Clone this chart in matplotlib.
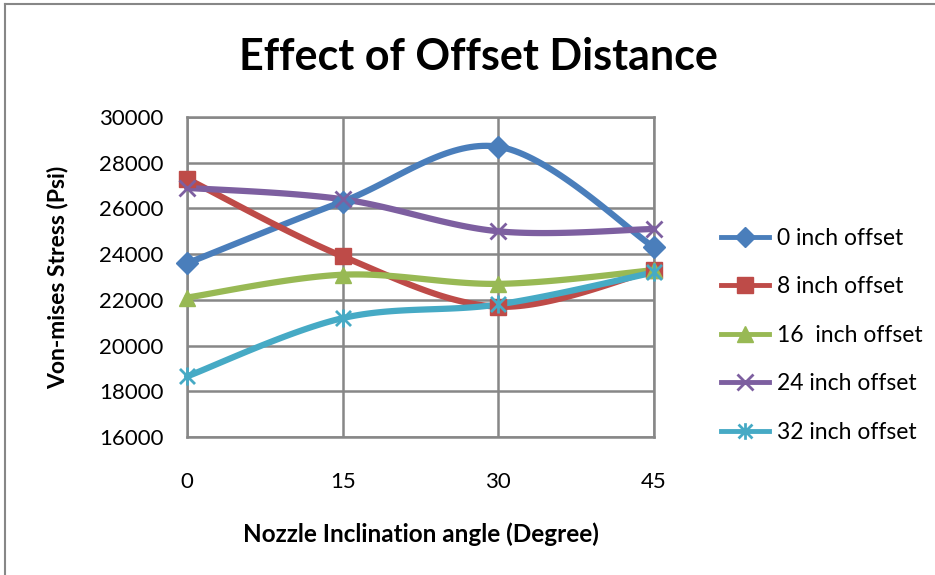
import numpy as np
import matplotlib
matplotlib.use("Agg")
import matplotlib.pyplot as plt
from matplotlib.lines import Line2D
from matplotlib.path import Path

# === Data ===
angles = ["0", "15", "30", "45"]
off_0 = [23600, 26300, 28700, 24300]
off_8 = [27300, 23900, 21700, 23300]
off_16 = [22100, 23100, 22700, 23300]
off_24 = [26900, 26400, 25000, 25100]
off_32 = [18650, 21200, 21800, 23200]

# asterisk like Excel: an x plus a vertical stroke
star = Path([(-1, -1), (1, 1), (-1, 1), (1, -1), (0, -1.2), (0, 1.2)],
            [Path.MOVETO, Path.LINETO, Path.MOVETO, Path.LINETO, Path.MOVETO, Path.LINETO])

series = [
    ("0 inch offset", off_0, "#4A7EBB", "D", 11),
    ("8 inch offset", off_8, "#BE4B48", "s", 12),
    ("16  inch offset", off_16, "#98B954", "^", 12),
    ("24 inch offset", off_24, "#7D5FA0", "x", 12),
    ("32 inch offset", off_32, "#46AAC5", star, 13),
]

YMIN, YMAX = 16000, 30000
FONT = "Lato"
plt.rcParams["font.family"] = [FONT, "DejaVu Sans"]


def smooth(xs, ys, ax, n=40):
    # Excel-like smoothed line: Catmull-Rom in screen-proportional space
    x0, x1 = ax.get_xlim()
    bb = ax.get_position()
    fw, fh = ax.figure.get_size_inches()
    sx = bb.width * fw / (x1 - x0)
    sy = bb.height * fh / (YMAX - YMIN)
    p = np.column_stack([np.asarray(xs, float) * sx, np.asarray(ys, float) * sy])
    p = np.vstack([p[0], p, p[-1]])
    out = []
    t = np.linspace(0, 1, n)[:, None]
    for i in range(1, len(p) - 2):
        p0, p1, p2, p3 = p[i - 1], p[i], p[i + 1], p[i + 2]
        c1 = p1 + (p2 - p0) / 6
        c2 = p2 - (p3 - p1) / 6
        seg = ((1 - t) ** 3) * p1 + 3 * ((1 - t) ** 2) * t * c1 + 3 * (1 - t) * t ** 2 * c2 + t ** 3 * p2
        out.append(seg if i == 1 else seg[1:])
    out = np.vstack(out)
    return out[:, 0] / sx, out[:, 1] / sy


fig = plt.figure(figsize=(9.35, 5.75), dpi=100)
ax = fig.add_axes([187 / 935, 1 - 437 / 575, (654 - 187) / 935, (437 - 117) / 575])

xpos = np.arange(len(angles))
ax.set_xlim(0, len(angles) - 1)
ax.set_ylim(YMIN, YMAX)

handles = []
for label, vals, col, mk, ms in series:
    sxv, syv = smooth(xpos, vals, ax)
    ax.plot(sxv, syv, color=col, lw=4.5, solid_capstyle="round", zorder=3, clip_on=False)
    mew = 2.0 if mk in ("x", star) else 1
    ax.plot(xpos, vals, ls="none", marker=mk, ms=ms, color=col, mec=col, mew=mew, zorder=4, clip_on=False)
    handles.append(Line2D([0], [0], color=col, lw=3.5, marker=mk, ms=ms - 1, mec=col, mew=mew))

ax.set_yticks(np.arange(YMIN, YMAX + 1, 2000))
ax.set_xticks(xpos)
ax.set_xticklabels(angles)
ax.grid(True, color="#878787", lw=1.8)
ax.set_axisbelow(True)
for s in ax.spines.values():
    s.set_color("#878787")
    s.set_linewidth(1.8)
ax.tick_params(length=0, labelsize=16)
ax.tick_params(axis="x", pad=25)
ax.tick_params(axis="y", pad=17)

ax.set_xlabel("Nozzle Inclination angle (Degree)", fontsize=17.5, fontweight="bold", labelpad=22)
ax.set_ylabel("Von-mises Stress (Psi)", fontsize=16.5, fontweight="bold", labelpad=22)

fig.text(478 / 935, 1 - 57 / 575, "Effect of Offset Distance", ha="center", va="center",
         fontsize=31, fontweight="bold")

ax.legend(handles, [s[0] for s in series], loc="upper left", frameon=False,
          bbox_to_anchor=(700 / 935, 1 - 207 / 575), bbox_transform=fig.transFigure,
          fontsize=16.5, handlelength=2.1, labelspacing=1.2, handletextpad=0.35)

# chart area border (left and top visible)
fig.add_artist(Line2D([5 / 935, 5 / 935], [0, 1 - 4 / 575], color="#878787", lw=1.5))
fig.add_artist(Line2D([5 / 935, 1], [1 - 4 / 575, 1 - 4 / 575], color="#878787", lw=1.5))

fig.savefig("out.png", dpi=100)
